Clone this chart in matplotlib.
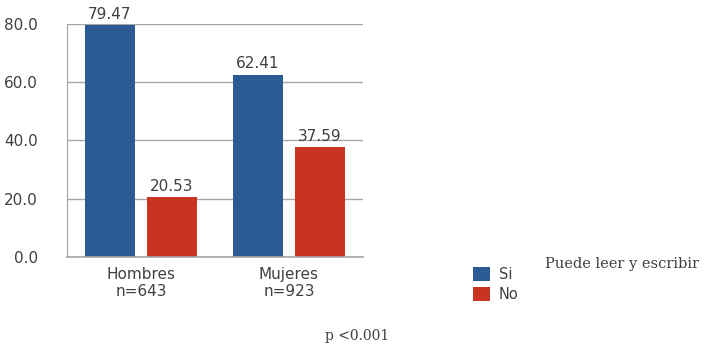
import matplotlib.pyplot as plt
import numpy as np

GROUPS = ["Hombres\nn=643", "Mujeres\nn=923"]
SI_VALS = [79.47, 62.41]
NO_VALS = [20.53, 37.59]
SERIES = ["Si", "No"]
Y_TICKS = [0, 20, 40, 60, 80]

BLUE = "#2B5A94"
RED = "#C8341F"
TEXT = "#404040"
GRID = "#A6A6A6"


def main():
    fig = plt.figure(figsize=(7.04, 3.52), dpi=100)
    ax = fig.add_axes([0.0952, 0.2699, 0.4204, 0.6633])

    x = np.arange(len(GROUPS))
    width = 0.34
    off = 0.21
    b1 = ax.bar(x - off, SI_VALS, width, color=BLUE, label=SERIES[0], zorder=3)
    b2 = ax.bar(x + off, NO_VALS, width, color=RED, label=SERIES[1], zorder=3)

    for bars, vals in ((b1, SI_VALS), (b2, NO_VALS)):
        for b, v in zip(bars, vals):
            ax.text(b.get_x() + b.get_width() / 2, v + 1.2, "{:.2f}".format(v),
                    ha="center", va="bottom", fontsize=11, color=TEXT, clip_on=False)

    ax.set_xlim(-0.5, 1.5)
    ax.set_ylim(0, 80)
    ax.set_yticks(Y_TICKS)
    ax.set_yticklabels(["{:.1f}".format(v) for v in Y_TICKS])
    ax.set_xticks(x)
    ax.set_xticklabels(GROUPS)
    ax.tick_params(length=0, labelsize=11, colors=TEXT)
    ax.tick_params(axis="y", pad=21)
    ax.tick_params(axis="x", pad=7)
    ax.yaxis.grid(True, color=GRID, linewidth=1, zorder=0)
    ax.axhline(0, color=GRID, linewidth=1.2, zorder=4, clip_on=False)
    for s in ("top", "right", "bottom"):
        ax.spines[s].set_visible(False)
    ax.spines["left"].set_color(GRID)

    fig.legend(handles=[b1, b2], labels=SERIES, loc="upper left",
               bbox_to_anchor=(0.672, 0.2415), frameon=False, fontsize=10.5,
               handlelength=1.15, handleheight=1.15, handletextpad=0.6,
               labelspacing=0.3, borderaxespad=0, borderpad=0,
               labelcolor=TEXT)

    fig.text(0.774, 0.25, "Puede leer y escribir", fontsize=10.5,
             family="DejaVu Serif", color=TEXT, va="center")
    fig.text(0.462, 0.045, "p <0.001", fontsize=10,
             family="DejaVu Serif", color=TEXT, va="center")

    fig.savefig("out.png", dpi=100)


if __name__ == '__main__':
    main()
